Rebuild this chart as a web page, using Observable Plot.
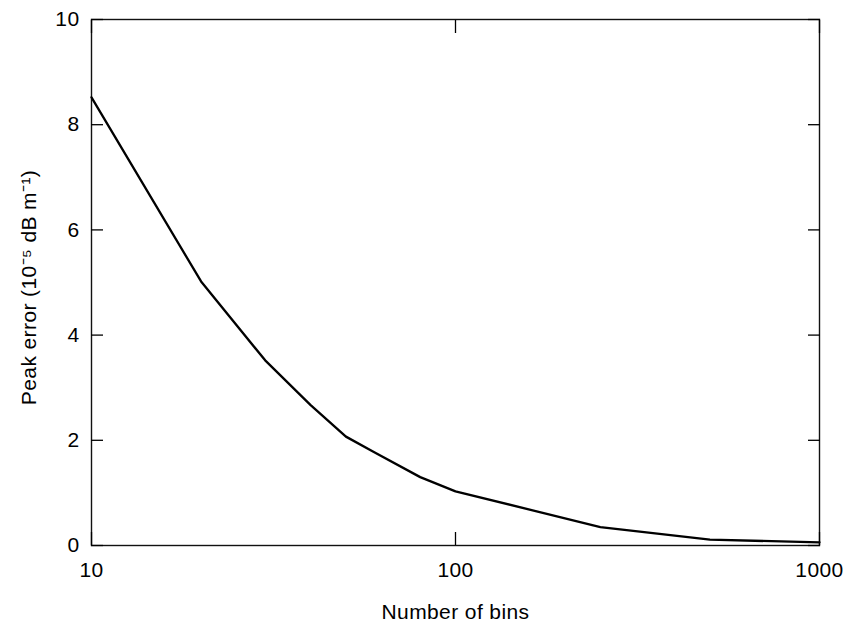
<!DOCTYPE html>
<html>
<head>
<meta charset="utf-8">
<script src="https://cdn.jsdelivr.net/npm/d3@7"></script>
<script src="https://cdn.jsdelivr.net/npm/@observablehq/plot@0.6"></script>
<style>
  html, body { margin: 0; padding: 0; background: #fff; }
</style>
</head>
<body>
<div id="chart"></div>
<script>
// Peak error versus number of bins
const bins = [10, 20, 30, 40, 50, 60, 80, 100, 250, 500, 1000];
const peakError = [8.52, 5.02, 3.52, 2.67, 2.07, 1.77, 1.30, 1.03, 0.35, 0.11, 0.06];

const xTicks = [10, 100, 1000];
const yTicks = [0, 2, 4, 6, 8, 10];

const xLabel = "Number of bins";
const yLabel = "Peak error (10\u207B\u2075 dB m\u207B\u00B9)";

const rows = bins.map((b, i) => ({bins: b, error: peakError[i]}));

const font = "'Liberation Sans', Arial, Helvetica, sans-serif";

const chart = Plot.plot({
  width: 845,
  height: 622,
  marginLeft: 91,
  marginRight: 26,
  marginTop: 19,
  marginBottom: 77,
  style: {background: "#fff", color: "#000", fontFamily: font, fontSize: "21px", letterSpacing: "0.4px"},
  x: {type: "log", domain: [10, 1000]},
  y: {domain: [0, 10]},
  marks: [
    Plot.frame({stroke: "#111", strokeWidth: 1.4}),
    // inward ticks with labels on bottom and left
    Plot.axisX({anchor: "bottom", ticks: xTicks, tickSize: -13, tickPadding: 30,
      tickFormat: d3.format("d"), label: null, strokeWidth: 1.3, fontSize: 21}),
    Plot.axisX({anchor: "top", ticks: xTicks, tickSize: -13,
      tickFormat: () => "", label: null, strokeWidth: 1.3}),
    Plot.axisY({anchor: "left", ticks: yTicks, tickSize: -12, tickPadding: 24,
      tickFormat: d3.format("d"), label: null, strokeWidth: 1.3, fontSize: 21}),
    Plot.axisY({anchor: "right", ticks: yTicks, tickSize: -12,
      tickFormat: () => "", label: null, strokeWidth: 1.3}),
    Plot.line(rows, {x: "bins", y: "error", stroke: "#000", strokeWidth: 2.3, curve: "linear"}),
    Plot.text([xLabel], {frameAnchor: "bottom", dy: 67, text: d => d,
      fontSize: 21, lineAnchor: "middle", textAnchor: "middle", fill: "#000"}),
    Plot.text([yLabel], {frameAnchor: "left", dx: -62, dy: 5, rotate: -90, text: d => d,
      fontSize: 21, lineAnchor: "middle", textAnchor: "middle", fill: "#000"})
  ]
});

document.getElementById("chart").appendChild(chart);
</script>
</body>
</html>
